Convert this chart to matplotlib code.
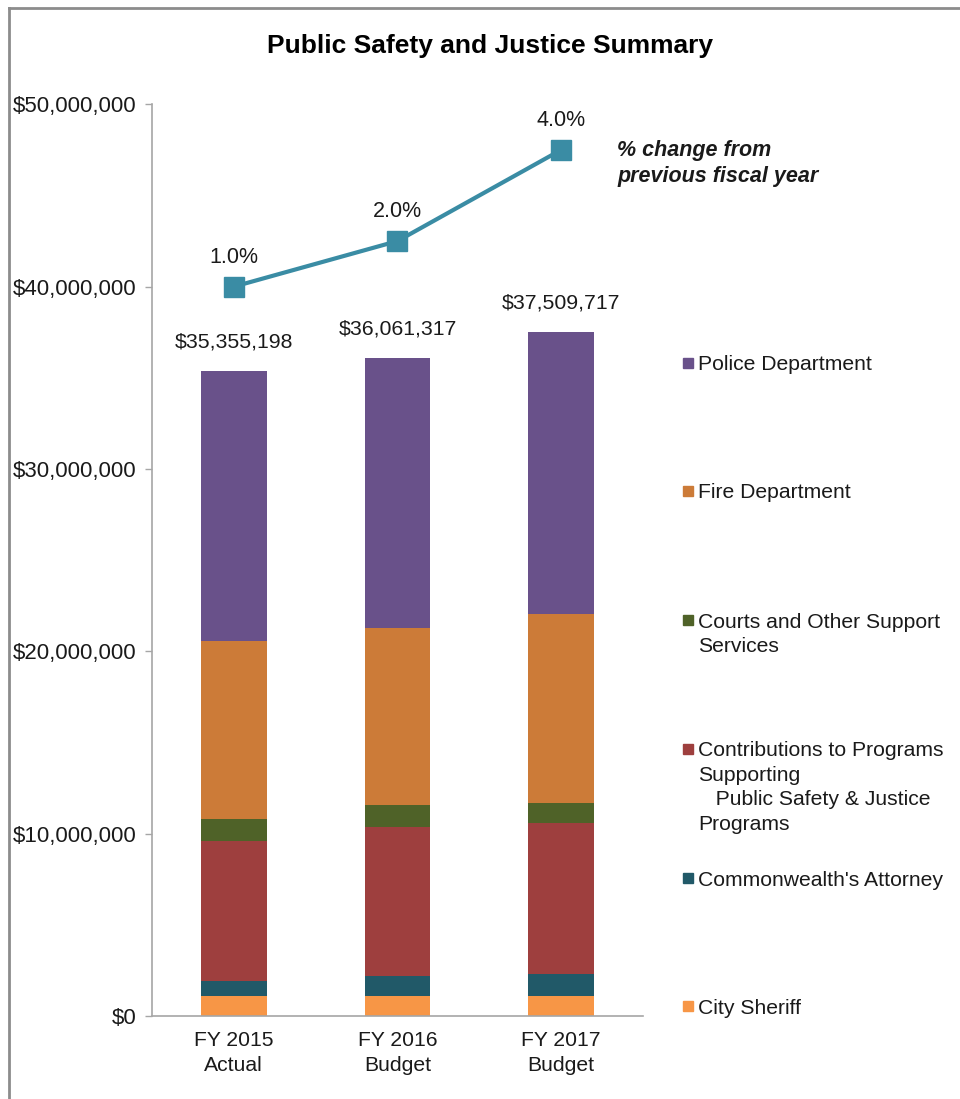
import matplotlib
matplotlib.use("Agg")
import matplotlib.pyplot as plt
from matplotlib.patches import Rectangle
from matplotlib.lines import Line2D
from matplotlib.ticker import FuncFormatter

plt.rcParams['font.family'] = ['Liberation Sans', 'DejaVu Sans']

# Data (values in dollars)
years = ["FY 2015\nActual", "FY 2016\nBudget", "FY 2017\nBudget"]
totals = [35355198, 36061317, 37509717]
pct_change = [1.0, 2.0, 4.0]

city_sheriff = [1080000, 1080000, 1080000]
commonwealth = [840000, 1130000, 1210000]
contributions = [7680000, 8160000, 8280000]
courts = [1190000, 1200000, 1130000]
fire = [9760000, 9700000, 10330000]
police = [t - (a + b + c + d + e) for t, a, b, c, d, e in
          zip(totals, city_sheriff, commonwealth, contributions, courts, fire)]

series_names = ["City Sheriff", "Commonwealth's Attorney",
                "Contributions to Programs\nSupporting\n   Public Safety & Justice\nPrograms",
                "Courts and Other Support\nServices", "Fire Department", "Police Department"]
series_values = [city_sheriff, commonwealth, contributions, courts, fire, police]
colors = ["#F79646", "#215968", "#9E3F3E", "#4F6228", "#CC7B38", "#69518A"]

fig = plt.figure(figsize=(9.6, 10.99), dpi=100)
ax = fig.add_axes([0.1583, 0.0755, 0.5115, 0.8296])

x = range(len(years))
bottom = [0, 0, 0]
for vals, col in zip(series_values, colors):
    ax.bar(x, vals, width=0.4, bottom=bottom, color=col, edgecolor='none', zorder=2)
    bottom = [b + v for b, v in zip(bottom, vals)]

# total labels
for i, t in enumerate(totals):
    ax.annotate("${:,.0f}".format(t), (i, t), xytext=(0, 21), textcoords='offset points',
                ha='center', va='center', fontsize=15.3, color='#1a1a1a')

ax.set_xlim(-0.5, 2.5)
ax.set_ylim(0, 50000000)
ax.set_yticks(range(0, 50000001, 10000000))
ax.yaxis.set_major_formatter(FuncFormatter(lambda v, p: "${:,.0f}".format(v)))
ax.set_xticks(list(x))
ax.set_xticklabels(years, fontsize=15.2, color='#1a1a1a', linespacing=1.38)
ax.tick_params(axis='x', length=0, pad=11)
ax.tick_params(axis='y', length=5, width=1, color='#A6A6A6', labelsize=16,
               labelcolor='#1a1a1a', pad=6)
for s in ['top', 'right']:
    ax.spines[s].set_visible(False)
for s in ['left', 'bottom']:
    ax.spines[s].set_color('#A6A6A6')
    ax.spines[s].set_linewidth(1.2)

# percent change line on hidden secondary axis
ax2 = ax.twinx()
ax2.set_ylim(-15, 5)
ax2.plot(list(x), pct_change, color='#3A8CA4', linewidth=3, marker='s',
         markersize=14, zorder=3)
for i, p in enumerate(pct_change):
    ax2.annotate("{:.1f}%".format(p), (i, p), xytext=(0, 21), textcoords='offset points',
                 ha='center', va='center', fontsize=15.5, color='#1a1a1a')
ax2.axis('off')

fig.text(0.643, 0.8515, "% change from\nprevious fiscal year", fontsize=15.5,
         fontweight='bold', fontstyle='italic', ha='left', va='center',
         color='#1a1a1a', linespacing=1.3)

fig.text(0.51, 0.958, "Public Safety and Justice Summary", fontsize=19,
         fontweight='bold', ha='center', va='center', color='#000000')

# legend, drawn manually from top (Police) to bottom (City Sheriff)
leg_y = [1006, 878, 749, 620, 491, 363]
for name, col, yp in zip(series_names, colors, leg_y):
    yc = 1 - yp / 1099
    fig.patches.append(Rectangle((683 / 960, yc - 5 / 1099), 10 / 960, 10 / 1099,
                                 transform=fig.transFigure, color=col))
    for k, line in enumerate(name.split("\n")):
        fig.text(698 / 960, yc - (7.5 + 24.4 * k) / 1099, line, fontsize=15.2,
                 ha='left', va='baseline', color='#1a1a1a')

# outer frame lines (left and top)
fig.lines.append(Line2D([9 / 960, 9 / 960], [0, 1 - 8 / 1099], transform=fig.transFigure,
                        color='#8C8C8C', linewidth=2))
fig.lines.append(Line2D([9 / 960, 1], [1 - 8 / 1099, 1 - 8 / 1099], transform=fig.transFigure,
                        color='#8C8C8C', linewidth=2))

fig.savefig("out.png", dpi=100)
